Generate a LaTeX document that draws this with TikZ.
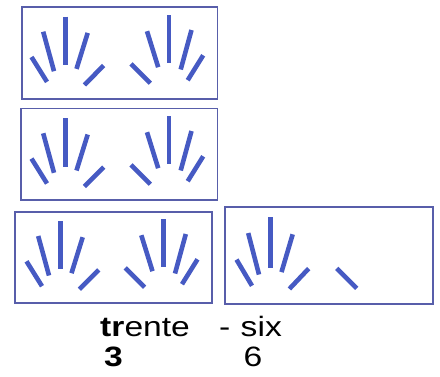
\documentclass[tikz,border=0pt]{standalone}
\usepackage{fontspec}
\setmainfont{Liberation Sans}
\definecolor{stickblue}{RGB}{70,90,195}
\definecolor{boxblue}{RGB}{88,94,170}
\tikzset{
  stick/.style={draw=stickblue, line width=4.6pt},
  tenbox/.style={draw=boxblue, line width=1.4pt},
  word/.style={inner sep=0pt, anchor=base west, font=\fontsize{28}{30}\selectfont, xscale=1.2},
  hand/.pic={
    \draw[stick] (-34.2,40.3) -- (-18.7,65.2);
    \draw[stick] (-22.5,15.0) -- (-11.7,54.5);
    \draw[stick] (0,0) -- (0,48.3);
    \draw[stick] (22.0,16.2) -- (10.8,52.2);
    \draw[stick] (38.0,48.8) -- (18.7,68.2);
  }
}

\begin{document}
\begin{tikzpicture}[x=1pt, y=-1pt]
  \useasboundingbox (0,0) rectangle (440,376);
  % three tens
  \draw[tenbox] (22,7) rectangle (217.5,99);
  \pic at (65.7,16.7) {hand};
  \pic[xscale=-1] at (169,15) {hand};
  \draw[tenbox] (21,108.3) rectangle (217.3,200);
  \pic at (65.7,118.3) {hand};
  \pic[xscale=-1] at (169,116) {hand};
  \draw[tenbox] (15,212) rectangle (212,303);
  \pic at (60.7,221) {hand};
  \pic[xscale=-1] at (163.3,219) {hand};
  % six units
  \draw[tenbox] (225,207) rectangle (433,304);
  \pic[yscale=1.05] at (270.7,217.3) {hand};
  \draw[stick] (336.7,268.3) -- (356.7,288.3);
  % number name
  \node[word] (tens) at (100,336.7) {\textbf{tr}ente};
  \node[word] (dash) at (219,336.7) {-};
  \node[word] (units) at (240.5,336.7) {six};
  \node[word] (tensdigit) at (104,366.7) {\textbf{3}};
  \node[word] (unitsdigit) at (243.5,366.7) {6};
\end{tikzpicture}
\end{document}
